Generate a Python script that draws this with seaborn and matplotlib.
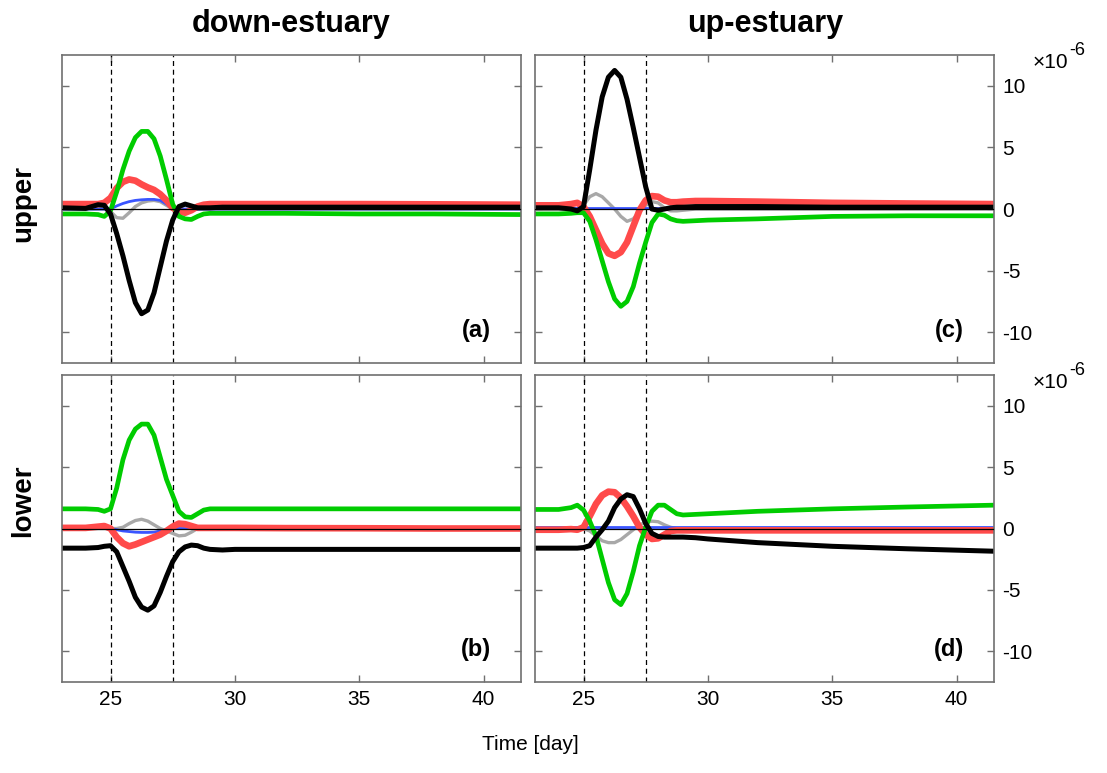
import matplotlib
matplotlib.use("Agg")
import matplotlib.pyplot as plt
import seaborn as sns
import numpy as np

# time [day]
t = [23.05, 24, 24.5, 24.75, 25, 25.25, 25.5, 25.75, 26, 26.25, 26.5, 26.75, 27, 27.25,
     27.5, 27.75, 28, 28.25, 28.5, 28.75, 29, 29.5, 30, 32, 35, 38, 41.5]

# (a) down-estuary, upper   (units 1e-6)
a_grey  = [0, 0, 0, 0, -0.2, -0.7, -0.75, -0.3, 0.2, 0.5, 0.65, 0.7, 0.6, 0.3, 0.0, -0.1, -0.05, 0, 0, 0, 0, 0, 0, 0, 0, 0, 0]
a_blue  = [0, 0, 0, 0, 0, 0.25, 0.45, 0.6, 0.7, 0.75, 0.78, 0.78, 0.7, 0.4, 0.05, 0, 0, 0, 0, 0, 0, 0, 0, 0, 0, 0, 0]
a_red   = [0.4, 0.4, 0.4, 0.5, 0.9, 1.7, 2.2, 2.4, 2.3, 2.0, 1.75, 1.55, 1.2, 0.7, 0.1, -0.2, -0.3, -0.1, 0.2, 0.35, 0.4, 0.4, 0.4, 0.4, 0.4, 0.38, 0.35]
a_green = [-0.4, -0.4, -0.45, -0.6, -0.15, 1.4, 3.2, 4.7, 5.8, 6.3, 6.3, 5.7, 4.3, 2.4, 0.4, -0.6, -0.8, -0.85, -0.6, -0.4, -0.35, -0.35, -0.35, -0.35, -0.4, -0.4, -0.45]
a_black = [0.1, 0.05, 0.35, 0.3, -0.4, -2.0, -3.8, -5.8, -7.6, -8.5, -8.2, -6.8, -4.7, -2.6, -0.9, 0.2, 0.4, 0.25, 0.1, 0.1, 0.1, 0.15, 0.15, 0.15, 0.15, 0.15, 0.15]

# (b) down-estuary, lower
b_grey  = [0, 0, 0, 0, 0, 0, 0.1, 0.4, 0.65, 0.75, 0.6, 0.3, 0.0, -0.2, -0.4, -0.6, -0.55, -0.3, 0, 0, 0, 0, 0, 0, 0, 0, 0]
b_blue  = [0, 0, 0, 0, 0, -0.1, -0.2, -0.25, -0.3, -0.32, -0.32, -0.3, -0.2, -0.1, 0, 0, 0, 0, 0, 0, 0, 0, 0, 0, 0, 0, 0]
b_red   = [0.05, 0.05, 0.15, 0.2, 0.0, -0.7, -1.2, -1.45, -1.3, -1.1, -0.9, -0.7, -0.5, -0.2, 0.15, 0.4, 0.35, 0.2, 0.05, 0.05, 0.05, 0.05, 0.05, 0.03, 0.02, 0.0, 0.0]
b_green = [1.6, 1.6, 1.55, 1.4, 1.6, 3.3, 5.6, 7.2, 8.1, 8.5, 8.5, 7.6, 5.8, 4.0, 2.7, 1.4, 0.95, 0.9, 1.2, 1.5, 1.6, 1.6, 1.6, 1.6, 1.6, 1.6, 1.6]
b_black = [-1.6, -1.6, -1.55, -1.45, -1.4, -1.9, -3.1, -4.3, -5.6, -6.4, -6.65, -6.3, -5.2, -3.9, -2.7, -1.9, -1.5, -1.35, -1.4, -1.6, -1.7, -1.75, -1.7, -1.7, -1.7, -1.7, -1.7]

# (c) up-estuary, upper
c_grey  = [0, 0, 0, 0, 0.3, 1.0, 1.25, 1.0, 0.5, 0.0, -0.6, -1.0, -0.8, -0.2, 0.3, 0.6, 0.5, 0.1, -0.15, -0.15, -0.1, 0, 0, 0, 0, 0, 0]
c_blue  = [0.08] * 27
c_red   = [0.3, 0.3, 0.4, 0.5, 0.2, -0.6, -1.7, -2.8, -3.6, -3.8, -3.5, -2.7, -1.4, -0.1, 0.7, 1.05, 1.0, 0.7, 0.55, 0.55, 0.6, 0.65, 0.65, 0.6, 0.5, 0.45, 0.4]
c_green = [-0.4, -0.4, -0.35, -0.3, -0.3, -1.0, -2.5, -4.2, -5.9, -7.3, -7.9, -7.5, -6.3, -4.4, -2.7, -1.1, -0.4, -0.5, -0.8, -0.95, -1.0, -0.95, -0.9, -0.8, -0.6, -0.55, -0.55]
c_black = [0.1, 0.1, 0.0, -0.15, 0.2, 3.2, 6.4, 9.1, 10.7, 11.25, 10.7, 8.9, 6.6, 4.2, 1.8, 0.0, -0.1, 0.0, 0.1, 0.15, 0.15, 0.2, 0.2, 0.2, 0.15, 0.15, 0.15]

# (d) up-estuary, lower
d_grey  = [0, 0, 0, 0, 0, -0.2, -0.6, -1.0, -1.15, -1.15, -0.9, -0.5, -0.1, 0.3, 0.5, 0.6, 0.55, 0.3, 0.1, 0, 0, 0, 0, 0, 0, 0, 0]
d_blue  = [0.15] * 27
d_red   = [-0.1, -0.1, -0.05, -0.1, 0.1, 1.0, 2.0, 2.7, 3.0, 2.95, 2.5, 1.8, 1.0, 0.1, -0.5, -0.85, -0.8, -0.5, -0.2, -0.15, -0.15, -0.15, -0.15, -0.15, -0.15, -0.15, -0.15]
d_green = [1.55, 1.55, 1.7, 1.9, 1.5, 0.6, -0.6, -2.5, -4.4, -5.8, -6.2, -5.3, -3.5, -1.4, 0.1, 1.4, 1.9, 1.9, 1.55, 1.2, 1.1, 1.15, 1.2, 1.4, 1.6, 1.75, 1.9]
d_black = [-1.6, -1.6, -1.6, -1.6, -1.55, -1.4, -0.7, -0.1, 0.6, 1.7, 2.4, 2.75, 2.6, 1.6, 0.4, -0.4, -0.65, -0.7, -0.7, -0.7, -0.7, -0.75, -0.85, -1.15, -1.45, -1.65, -1.85]

col_titles = ["down-estuary", "up-estuary"]
row_titles = ["upper", "lower"]
panel_tags = ["(a)", "(b)", "(c)", "(d)"]
yticks = [-10, -5, 0, 5, 10]
xticks = [25, 30, 35, 40]

sns.set_style("ticks")
plt.rcParams['font.family'] = ['Liberation Sans', 'DejaVu Sans']
plt.rcParams['axes.unicode_minus'] = False
plt.rcParams['text.color'] = 'black'
plt.rcParams['lines.solid_joinstyle'] = 'round'
plt.rcParams['lines.solid_capstyle'] = 'round'

styles = [  # colour, width
    ("#a8a8a8", 2.4),
    ("#3a55ff", 2.0),
    ("#ff4a4a", 4.8),
    ("#00cc00", 3.4),
    ("#000000", 3.6),
]

fig = plt.figure(figsize=(11.07, 7.73), dpi=100)
w = 0.4146
pos = {"a": [0.056, 0.5304, w, 0.3984], "b": [0.056, 0.1177, w, 0.3972],
       "c": [0.4833, 0.5304, w, 0.3984], "d": [0.4833, 0.1177, w, 0.3972]}
data = {"a": [a_grey, a_blue, a_red, a_green, a_black],
        "b": [b_grey, b_blue, b_red, b_green, b_black],
        "c": [c_grey, c_blue, c_red, c_green, c_black],
        "d": [d_grey, d_blue, d_red, d_green, d_black]}

for i, k in enumerate("abcd"):
    ax = fig.add_axes(pos[k])
    ax.axvline(25, color="k", lw=0.9, ls=(0, (4, 3)), zorder=1)
    ax.axvline(27.5, color="k", lw=0.9, ls=(0, (4, 3)), zorder=1)
    for (c, lw), y in zip(styles, data[k]):
        sns.lineplot(x=t, y=y, ax=ax, color=c, linewidth=lw, legend=False)
    ax.axhline(0, color="k", lw=0.9, zorder=10)
    ax.set_xlim(23.05, 41.5)
    ax.set_ylim(-12.5, 12.5)
    ax.set_xticks(xticks)
    ax.set_yticks(yticks)
    ax.set_xlabel("")
    ax.set_ylabel("")
    right = k in "cd"
    bottom = k in "bd"
    ax.tick_params(direction="in", top=True, right=True, left=True, bottom=True,
                   length=5, width=1, color="#707070", labelcolor="black", labelsize=15,
                   labelleft=False, labelright=right, labelbottom=bottom, pad=6)
    for s in ax.spines.values():
        s.set_color("#707070")
        s.set_linewidth(1.2)
    ax.text(0.935, 0.107, panel_tags[i], transform=ax.transAxes, ha="right", va="center",
            fontsize=17, fontweight="bold")
    if right:
        ax.text(1.083, 0.975, "×10", transform=ax.transAxes, ha="left", va="center", fontsize=15)
        ax.text(1.165, 1.015, "-6", transform=ax.transAxes, ha="left", va="center", fontsize=13)

fig.text(291 / 1107, 1 - 24 / 773, col_titles[0], ha="center", va="center", fontsize=22, fontweight="bold")
fig.text(765 / 1107, 1 - 24 / 773, col_titles[1], ha="center", va="center", fontsize=22, fontweight="bold")
fig.text(0.021, 1 - 203 / 773, row_titles[0], rotation=90, ha="center", va="center", fontsize=20, fontweight="bold")
fig.text(0.021, 1 - 501 / 773, row_titles[1], rotation=90, ha="center", va="center", fontsize=20, fontweight="bold")
fig.text(530 / 1107, 1 - 745 / 773, "Time [day]", ha="center", va="center", fontsize=15)

fig.savefig("out.png", dpi=100)
